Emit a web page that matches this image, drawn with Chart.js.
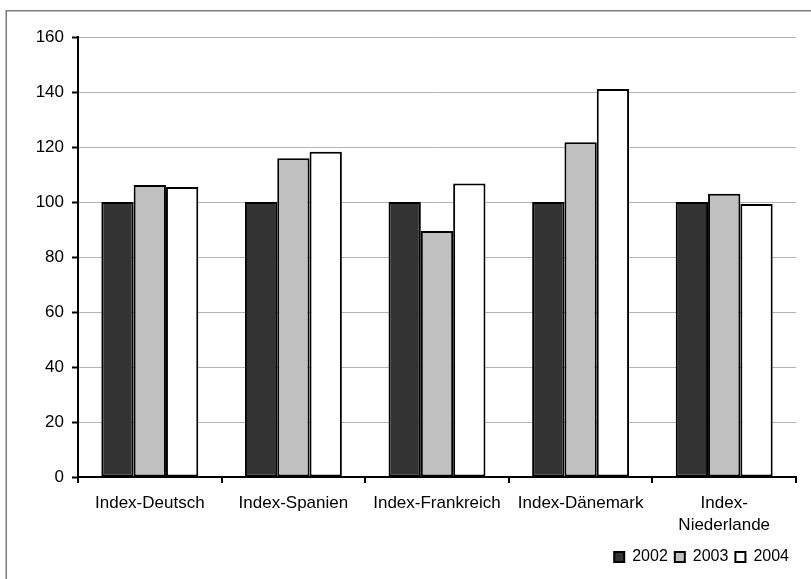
<!DOCTYPE html>
<html>
<head>
<meta charset="utf-8">
<script src="https://cdn.jsdelivr.net/npm/chart.js@4/dist/chart.umd.min.js"></script>
<style>
  html, body { margin: 0; padding: 0; background: #ffffff; }
  #wrap { width: 811px; height: 579px; position: relative; }
</style>
</head>
<body>
<div id="wrap"><canvas id="c" width="811" height="579"></canvas></div>
<script>
// Index values per country (2002 = 100)
const categories = ['Index-Deutsch', 'Index-Spanien', 'Index-Frankreich', 'Index-Dänemark', ['Index-', 'Niederlande']];
const years = ['2002', '2003', '2004'];
const values2002 = [100, 100, 100, 100, 100];
const values2003 = [106.2, 115.9, 89.5, 121.7, 103.0];
const values2004 = [105.5, 118.3, 106.7, 141.1, 99.3];
const yTicks = [0, 20, 40, 60, 80, 100, 120, 140, 160];

const FONT = '"Liberation Sans", Arial, sans-serif';
const PLOT_BOTTOM = 477;

// Outer frame around the whole chart
const framePlugin = {
  id: 'frame',
  beforeDraw(chart) {
    const ctx = chart.ctx;
    ctx.save();
    ctx.fillStyle = '#ffffff';
    ctx.fillRect(0, 0, chart.width, chart.height);
    ctx.strokeStyle = '#7a7a7a';
    ctx.lineWidth = 1.5;
    ctx.strokeRect(6.25, 10.75, chart.width + 20, chart.height + 20);
    ctx.restore();
  }
};

const barStyle = {
  borderColor: '#000000',
  borderWidth: 2,
  borderSkipped: false,
  barPercentage: 1.0,
  categoryPercentage: 0.675
};

new Chart(document.getElementById('c'), {
  type: 'bar',
  data: {
    labels: categories,
    datasets: [
      Object.assign({ label: years[0], data: values2002, backgroundColor: '#333333' }, barStyle),
      Object.assign({ label: years[1], data: values2003, backgroundColor: '#c0c0c0' }, barStyle),
      Object.assign({ label: years[2], data: values2004, backgroundColor: '#ffffff' }, barStyle)
    ]
  },
  plugins: [framePlugin],
  options: {
    responsive: false,
    animation: false,
    devicePixelRatio: 1,
    layout: { padding: { left: 0, top: 37, right: 15, bottom: 4 } },
    plugins: {
      tooltip: { enabled: false },
      legend: {
        position: 'bottom',
        align: 'end',
        labels: {
          color: '#000000',
          font: { family: FONT, size: 16 },
          boxWidth: 10,
          boxHeight: 10,
          padding: 7
        }
      }
    },
    scales: {
      x: {
        offset: true,
        afterFit(scale) {
          // keep the plot floor at a fixed height whatever the legend takes
          const legendH = scale.chart.legend ? scale.chart.legend.height : 34;
          scale.height = scale.chart.height - 4 - legendH - PLOT_BOTTOM;
        },
        grid: {
          offset: true,
          drawOnChartArea: false,
          drawTicks: true,
          tickLength: 6,
          color: '#000000',
          lineWidth: 2
        },
        border: { display: true, color: '#000000', width: 2 },
        ticks: {
          color: '#000000',
          font: { family: FONT, size: 17, lineHeight: 1.25 },
          padding: 10,
          maxRotation: 0,
          autoSkip: false
        }
      },
      y: {
        min: 0,
        max: 160,
        afterFit(scale) { scale.width = 78; },
        afterBuildTicks(scale) { scale.ticks = yTicks.map(v => ({ value: v })); },
        grid: {
          color: '#b4b4b4',
          lineWidth: 1,
          drawTicks: true,
          tickLength: 6,
          tickColor: '#000000',
          tickWidth: 2
        },
        border: { display: true, color: '#000000', width: 2 },
        ticks: {
          color: '#000000',
          font: { family: FONT, size: 17 },
          padding: 8
        }
      }
    }
  }
});
</script>
</body>
</html>
